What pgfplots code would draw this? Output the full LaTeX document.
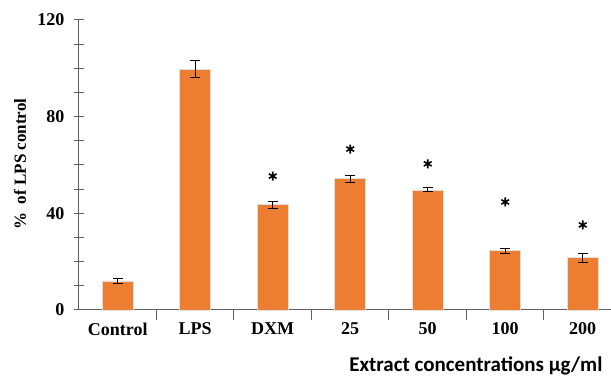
\documentclass[border=0pt]{standalone}
\usepackage{fontspec}
\setmainfont{Liberation Serif}
\newfontfamily\calibri{Carlito}
\usepackage{pgfplots}
\pgfplotsset{compat=1.18}
\definecolor{barorange}{HTML}{ED7D31}
\definecolor{axgray}{HTML}{5F5F5F}
\begin{document}
\begin{tikzpicture}
\begin{axis}[
  scale only axis,
  width=532pt, height=290pt,
  xmin=-0.5, xmax=6.365,
  ymin=0, ymax=120,
  axis lines=left,
  axis line style={axgray, line width=1pt, -},
  clip=false,
  ytick={0,40,80,120},
  minor ytick={10,20,30,50,60,70,90,100,110},
  y tick style={axgray, line width=1pt},
  tick align=center,
  major tick length=10pt, minor tick length=10pt,
  xtick={0.5,1.5,2.5,3.5,4.5,5.5},
  xticklabels={},
  x tick style={axgray, line width=1pt},
  xtick align=outside,
  extra x ticks={0,1,2,3,4,5,6},
  extra x tick labels={Control,LPS,DXM,25,50,100,200},
  extra x tick style={major tick length=0pt, tick style={draw=none}},
  /pgf/number format/assume math mode=true,
  tick label style={font=\bfseries\fontsize{18}{21}\selectfont},
  yticklabel style={xshift=-6pt},
  xticklabel style={yshift=-9pt},
  ylabel={\%\ \ of LPS control},
  ylabel style={at={(axis description cs:-0.111,0.503)}, anchor=center, font=\bfseries\fontsize{17}{20}\selectfont},
  xlabel={Extract concentrations µg/ml},
  xlabel style={at={(axis description cs:0.746,0)}, anchor=center, yshift=-56pt, font=\calibri\bfseries\fontsize{21}{24}\selectfont},
]
\addplot[ybar, bar width=31pt, fill=barorange, draw=white!75!gray, line width=0.6pt,
  error bars/.cd, y dir=both, y explicit,
  error bar style={black, line width=1pt},
  error mark options={rotate=90, mark size=5pt, black, line width=1pt}]
  coordinates {
  (0,12) +- (0,1)
  (1,99.7) +- (0,3.5)
  (2,43.6) +- (0,1.5)
  (3,54.3) +- (0,1.5)
  (4,49.7) +- (0,0.8)
  (5,24.5) +- (0,1)
  (6,21.6) +- (0,1.8)
  };
\addplot[only marks, mark=asterisk, mark size=4.5pt, black, line width=1.6pt]
  coordinates {(2,55.4) (3,66.6) (4,60.5) (5,44.7) (6,35.2)};
\end{axis}
\pgfresetboundingbox
\path ([shift={(-79pt,-66pt)}]current axis.south west) rectangle ([shift={(0pt,20pt)}]current axis.north east);
\end{tikzpicture}
\end{document}
